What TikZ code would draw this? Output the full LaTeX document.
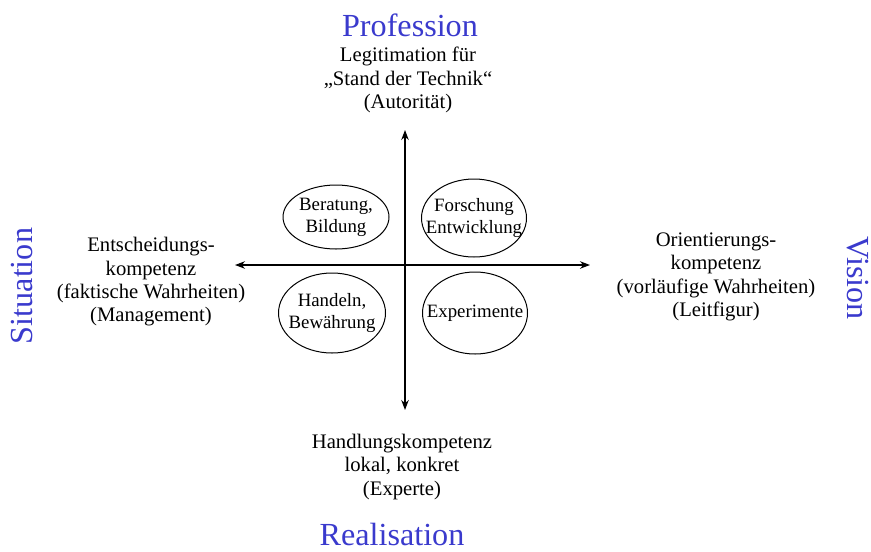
\documentclass[tikz,border=0pt]{standalone}
\usepackage{fontspec}
\setmainfont{Liberation Serif}
\usetikzlibrary{positioning,arrows.meta,shapes.geometric}
\definecolor{poleblue}{RGB}{58,58,205}

\begin{document}
\begin{tikzpicture}[
  x=0.6pt, y=-0.6pt,
  every node/.style={font=\fontsize{12.4}{14}\selectfont},
  pole/.style={text=poleblue, inner sep=0pt, font=\fontsize{19.3}{22}\selectfont},
  lbl/.style={align=center, inner sep=0pt},
  field/.style 2 args={draw, ellipse, line width=0.6pt, minimum width=#1,
                       minimum height=#2, inner sep=0pt},
  ftext/.style={align=center, inner sep=0pt, font=\fontsize{11.3}{13.2}\selectfont},
  arr/.style={<->, >={Stealth[length=6pt,width=4.5pt]}, line width=0.7pt}]

\useasboundingbox (0,0) rectangle (871,551);

%% Poles
\node[pole]             (prof) at (410,25)  {Profession};
\node[pole]             (real) at (392,534) {Realisation};
\node[pole, rotate=90]  (situ) at (22,286)  {Situation};
\node[pole, rotate=-90] (visi) at (858,278) {Vision};

%% Competences at the ends of the axes
\node[lbl] (legit) at (408,80)  {Legitimation für\\\char"201E Stand der Technik\char"201C\\(Autorität)};
\node[lbl] (entsch) at (151,282) {Entscheidungs-\\kompetenz\\(faktische Wahrheiten)\\(Management)};
\node[lbl] (orient) at (716,277) {Orientierungs-\\kompetenz\\(vorläufige Wahrheiten)\\(Leitfigur)};
\node[lbl] (handl) at (402,467) {Handlungskompetenz\\lokal, konkret\\(Experte)};

%% Axes
\coordinate (north) at (405,130);
\coordinate (south) at (405,410);
\coordinate (west)  at (235,265);
\coordinate (east)  at (590,265);
\draw[arr] (south) -- (north);
\draw[arr] (west)  -- (east);

%% Fields in the quadrants
\node[field={63.6pt}{38.4pt}] (berat) at (336,217) {};
\node[field={63pt}{46.8pt}]   (forsch) at (474,218) {};
\node[field={64.2pt}{48pt}]   (handel) at (332,313) {};
\node[field={63pt}{49.2pt}]   (exper) at (475,313) {};
\node[ftext] (berat-t)  at (berat)  {Beratung,\\Bildung};
\node[ftext] (forsch-t) at (forsch) {Forschung\\Entwicklung};
\node[ftext] (handel-t) at (handel) {Handeln,\\Bewährung};
\node[ftext] (exper-t)  at (exper)  {Experimente};
\end{tikzpicture}
\end{document}
